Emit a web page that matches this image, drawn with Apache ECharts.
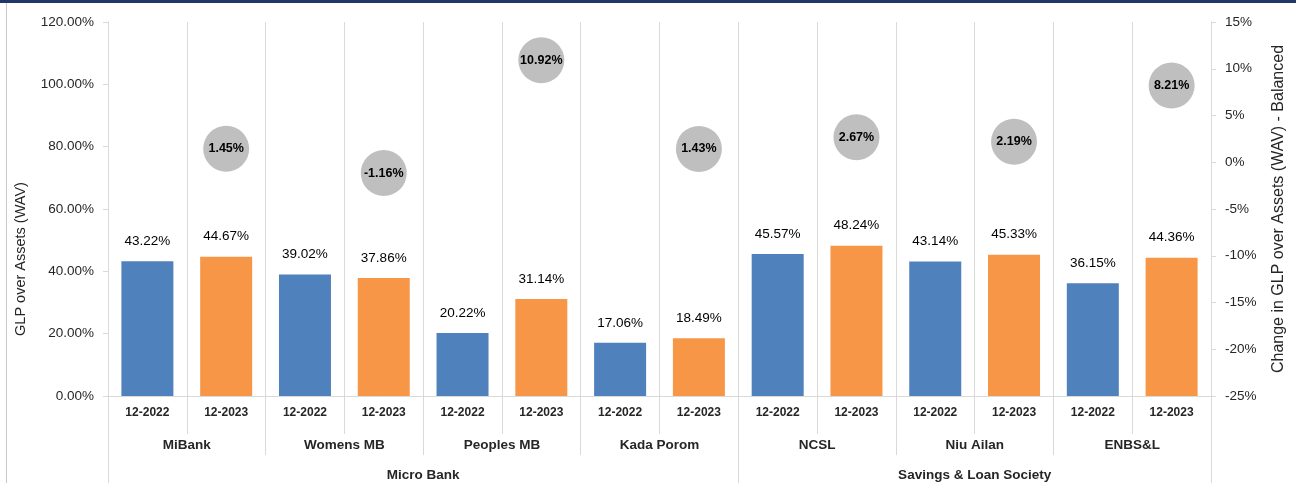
<!DOCTYPE html>
<html>
<head>
<meta charset="utf-8">
<script src="https://cdn.jsdelivr.net/npm/echarts@6/dist/echarts.min.js"></script>
<style>
  html, body { margin: 0; padding: 0; background: #fff; }
  #chart { width: 1296px; height: 483px; }
</style>
</head>
<body>
<div id="chart"></div>
<script>
// data
const institutions = ['MiBank', 'Womens MB', 'Peoples MB', 'Kada Porom', 'NCSL', 'Niu Ailan', 'ENBS&L'];
const periods = ['12-2022', '12-2023'];
const groupNames = ['Micro Bank', 'Savings & Loan Society'];
const groupSizes = [4, 3]; // institutions per group
const glp2022 = [43.22, 39.02, 20.22, 17.06, 45.57, 43.14, 36.15];
const glp2023 = [44.67, 37.86, 31.14, 18.49, 48.24, 45.33, 44.36];
const changeBalanced = [1.45, -1.16, 10.92, 1.43, 2.67, 2.19, 8.21];
const leftTicks = { min: 0, max: 120, interval: 20 };
const rightTicks = { min: -25, max: 15, interval: 5 };

const FONT = '"Liberation Sans", Arial, sans-serif';
const TEXT = '#262626';
const LINE = '#d9d9d9';

// 14 slots: each institution gets a 12-2022 and a 12-2023 slot
const cats = [];
const bars2022 = [];
const bars2023 = [];
const bubbles = [];
institutions.forEach((name, i) => {
    cats.push(periods[0], periods[1]);
    bars2022.push(glp2022[i], '-');
    bars2023.push('-', glp2023[i]);
    bubbles.push('-', changeBalanced[i]);
});
const nSlots = cats.length;

// boundaries / centers (in slot units) for the lower label rows
const instTicks = [];
const instCenters = [];
for (let i = 0; i <= institutions.length; i++) instTicks.push(i * 2);
for (let i = 0; i < institutions.length; i++) instCenters.push(i * 2 + 1);

const groupTicks = [0];
const groupCenters = [];
let acc = 0;
groupSizes.forEach(s => {
    groupCenters.push(acc + s + acc); // midpoint of [2*acc, 2*(acc+s)]
    acc += s;
    groupTicks.push(acc * 2);
});

const pct = v => v.toFixed(2) + '%';

const chart = echarts.init(document.getElementById('chart'));

const option = {
    animation: false,
    textStyle: { fontFamily: FONT },
    graphic: [
        { type: 'rect', left: 0, top: 0, shape: { width: 1296, height: 3 }, style: { fill: '#1f3864' } },
        { type: 'rect', left: 6, top: 3, shape: { width: 1, height: 480 }, style: { fill: '#c8c8c8' } }
    ],
    grid: { left: 108, right: 85, top: 22, bottom: 87, outerBoundsMode: 'none', containLabel: false },
    xAxis: [
        {
            type: 'category',
            position: 'bottom',
            data: cats,
            axisLine: { lineStyle: { color: LINE } },
            axisTick: { show: true, length: 38, lineStyle: { color: LINE } },
            splitLine: { show: true, lineStyle: { color: LINE } },
            axisLabel: {
                interval: 0, margin: 11, color: TEXT,
                fontSize: 12, fontWeight: 'bold', fontFamily: FONT
            }
        },
        {
            type: 'value', min: 0, max: nSlots,
            position: 'bottom',
            axisLine: { show: false, onZero: false },
            splitLine: { show: false },
            axisTick: { show: true, length: 59, customValues: instTicks, lineStyle: { color: LINE } },
            axisLabel: {
                customValues: instCenters, margin: 42, color: TEXT,
                fontSize: 13.5, fontWeight: 'bold', fontFamily: FONT,
                formatter: v => institutions[(v - 1) / 2]
            }
        },
        {
            type: 'value', min: 0, max: nSlots,
            position: 'bottom',
            axisLine: { show: false, onZero: false },
            splitLine: { show: false },
            axisTick: { show: true, length: 87, customValues: groupTicks, lineStyle: { color: LINE } },
            axisLabel: {
                customValues: groupCenters, margin: 72, color: TEXT,
                fontSize: 13.5, fontWeight: 'bold', fontFamily: FONT,
                formatter: v => groupNames[groupCenters.indexOf(v)]
            }
        }
    ],
    yAxis: [
        {
            type: 'value',
            position: 'left',
            min: leftTicks.min, max: leftTicks.max, interval: leftTicks.interval,
            name: 'GLP over Assets (WAV)',
            nameLocation: 'middle', nameGap: 80, nameRotate: 90,
            // extra right padding pushes the rotated name down like in the reference
            nameTextStyle: { color: TEXT, fontSize: 14.5, fontFamily: FONT, padding: [0, 100, 0, 0] },
            axisLine: { show: true, onZero: false, lineStyle: { color: LINE } },
            axisTick: { show: true, length: 5, lineStyle: { color: LINE } },
            splitLine: { show: false },
            axisLabel: { color: TEXT, fontSize: 13.5, margin: 14, formatter: pct }
        },
        {
            type: 'value',
            position: 'right',
            min: rightTicks.min, max: rightTicks.max, interval: rightTicks.interval,
            name: 'Change in GLP over Assets (WAV) - Balanced',
            nameLocation: 'middle', nameGap: 60, nameRotate: 90,
            nameTextStyle: { color: TEXT, fontSize: 16, fontFamily: FONT },
            axisLine: { show: true, onZero: false, lineStyle: { color: LINE } },
            axisTick: { show: true, length: 5, lineStyle: { color: LINE } },
            splitLine: { show: false },
            axisLabel: { color: TEXT, fontSize: 13.5, margin: 14, formatter: v => v + '%' }
        }
    ],
    series: [
        {
            name: periods[0],
            type: 'bar',
            data: bars2022,
            barWidth: 52,
            barGap: '-100%',
            itemStyle: { color: '#4f81bd' },
            label: {
                show: true, position: 'top', distance: 13,
                color: '#000', fontSize: 13.5,
                formatter: p => pct(p.value)
            }
        },
        {
            name: periods[1],
            type: 'bar',
            data: bars2023,
            barWidth: 52,
            barGap: '-100%',
            itemStyle: { color: '#f79646' },
            label: {
                show: true, position: 'top', distance: 13,
                color: '#000', fontSize: 13.5,
                formatter: p => pct(p.value)
            }
        },
        {
            name: 'Change',
            type: 'scatter',
            yAxisIndex: 1,
            data: bubbles,
            symbolSize: 46,
            itemStyle: { color: '#bfbfbf', opacity: 1 },
            label: {
                show: true, position: 'inside',
                color: '#000', fontSize: 12.5, fontWeight: 'bold',
                formatter: p => pct(p.value)
            },
            z: 5
        }
    ]
};

chart.setOption(option);
</script>
</body>
</html>
